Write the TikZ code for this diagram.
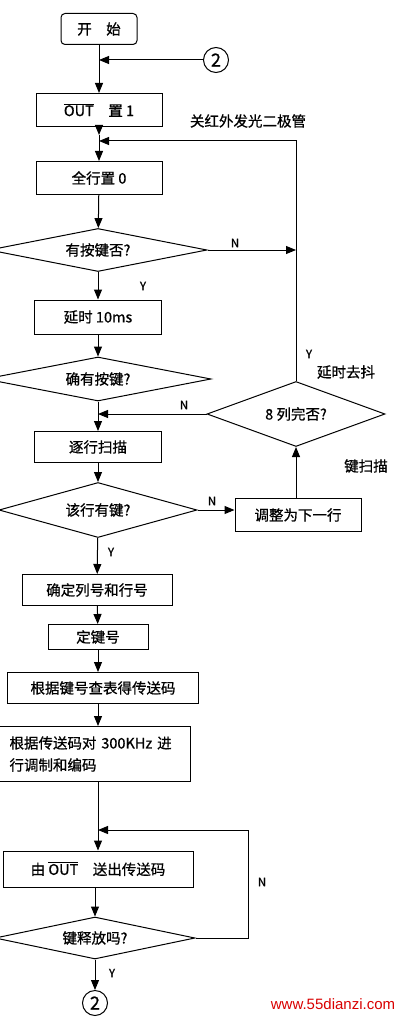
\documentclass[tikz,border=0pt]{standalone}
\usepackage{fontspec}
\newfontfamily\cjk[FakeBold=0.8]{Noto Sans CJK SC}
\newfontfamily\wmfont{Liberation Sans}
\usetikzlibrary{shapes.geometric,arrows.meta,positioning}
\tikzset{
  stepbox/.style={rectangle,draw,line width=1pt,inner sep=2pt},
  startbox/.style={stepbox,rounded corners=4pt},
  askbox/.style={diamond,draw,line width=1pt,aspect=5,inner sep=1pt},
  linkmark/.style={circle,draw,line width=1pt,minimum size=25pt,inner sep=0pt,font=\cjk\fontsize{18}{18}\selectfont},
  flowarr/.style={-{Triangle[length=10pt,width=8pt]},line width=1pt},
  flowline/.style={line width=1pt},
  yn/.style={font=\cjk\fontsize{11.5}{12}\selectfont,inner sep=0pt},
  note/.style={font=\cjk\fontsize{14.5}{16}\selectfont,inner sep=0pt}
}
\newcommand{\ovl}[1]{$\overline{\mbox{#1}}$}

\begin{document}
\begin{tikzpicture}[x=1pt,y=-1pt,font=\cjk\fontsize{14.5}{18}\selectfont]
  \useasboundingbox (0,0) rectangle (400,1024);
  % main column
  \node[startbox,minimum width=76pt,minimum height=31pt] (start) at (99,29) {开\quad 始};
  \node[linkmark] (conA) at (216,60) {2};
  \node[stepbox,minimum width=126pt,minimum height=33pt] (outset) at (99,110) {\ovl{OUT}\quad 置 1};
  \node[stepbox,minimum width=126pt,minimum height=33pt] (allrow) at (99,178) {全行置 0};
  \node[askbox,minimum width=218pt,minimum height=43pt] (dkey) at (98,250) {有按键否?};
  \node[stepbox,minimum width=127pt,minimum height=34pt] (delay) at (98,317) {延时 10ms};
  \node[askbox,minimum width=226pt,minimum height=44pt] (dconf) at (98,379) {确有按键?};
  \node[stepbox,minimum width=127pt,minimum height=31pt] (scan) at (98,447) {逐行扫描};
  \node[askbox,minimum width=198pt,minimum height=55pt] (drow) at (98,510) {该行有键?};
  \node[stepbox,minimum width=150pt,minimum height=31pt] (fixpos) at (97,590) {确定列号和行号};
  \node[stepbox,minimum width=100pt,minimum height=25pt] (keyno) at (98,637) {定键号};
  \node[stepbox,minimum width=191pt,minimum height=31pt] (lookup) at (103,688) {根据键号查表得传送码};
  \node[stepbox,minimum width=191pt,minimum height=55pt,inner xsep=10pt,text width=171pt,align=left,
        font=\cjk\fontsize{14.5}{22}\selectfont] (modul) at (95,754) {根据传送码对 300KHz 进\\行调制和编码};
  \node[stepbox,minimum width=190pt,minimum height=36pt] (send) at (98,869) {由 \ovl{OUT}\quad 送出传送码};
  \node[askbox,minimum width=200pt,minimum height=42pt] (drel) at (95,938) {键释放吗?};
  \node[linkmark] (conB) at (95,1003) {2};
  % right branch
  \node[askbox,minimum width=178pt,minimum height=65pt] (dcol) at (296,414) {8 列完否?};
  \node[stepbox,minimum width=126pt,minimum height=33pt] (nextrow) at (298,515) {调整为下一行};
  % junctions
  \coordinate (j1) at (99,60);
  \coordinate (jout) at (99,135);
  \coordinate (j2) at (99,141);
  \coordinate (rmid) at (296,250);
  \coordinate (j3) at (98,414);
  \coordinate (j4) at (98,830);
  \coordinate (loopr) at (248,830);
  % connectors
  \draw[flowarr] (start) -- (outset);
  \draw[flowarr] (conA) -- (j1);
  \draw[flowarr] (outset) -- (jout);
  \draw[flowarr] (jout) -- (allrow);
  \draw[flowarr] (dcol.north) |- (j2);
  \draw[flowarr] (allrow) -- (dkey);
  \draw[flowarr] (dkey.east) -- (rmid);
  \draw[flowarr] (dkey) -- (delay);
  \draw[flowarr] (delay) -- (dconf);
  \draw[flowarr] (dconf) -- (scan);
  \draw[flowarr] (dcol.west) -- (j3);
  \draw[flowarr] (scan) -- (drow);
  \draw[flowarr] (drow.east) -- (drow.east -| nextrow.west);
  \draw[flowarr] (dcol.south |- nextrow.north) -- (dcol.south);
  \draw[flowarr] (drow) -- (fixpos);
  \draw[flowarr] (fixpos) -- (keyno);
  \draw[flowarr] (keyno.south) -- (keyno.south |- lookup.north);
  \draw[flowarr] (keyno.south |- lookup.south) -- (keyno.south |- modul.north);
  \draw[flowarr] (keyno.south |- modul.south) -- (keyno.south |- send.north);
  \draw[flowarr] (drel.east) -| (loopr) -- (j4);
  \draw[flowarr] (drel.north |- send.south) -- (drel.north);
  \draw[flowarr] (drel) -- (conB);
  % labels
  \node[note] (offir) at (248,121) {关红外发光二极管};
  \node[note] (debounce) at (346,372) {延时去抖};
  \node[note] (keyscan) at (366,466) {键扫描};
  \node[yn] (n1) at (235,243) {N};
  \node[yn] (y1) at (143,286) {Y};
  \node[yn] (y2) at (309,354) {Y};
  \node[yn] (n2) at (184,405) {N};
  \node[yn] (n3) at (212,501) {N};
  \node[yn] (y3) at (111,552) {Y};
  \node[yn] (n4) at (262,882) {N};
  \node[yn] (y4) at (112,973) {Y};
  \node[font=\wmfont\fontsize{15}{15}\selectfont,text=red!85!black,inner sep=0pt] (site) at (333,1004) {www.55dianzi.com};
\end{tikzpicture}
\end{document}
